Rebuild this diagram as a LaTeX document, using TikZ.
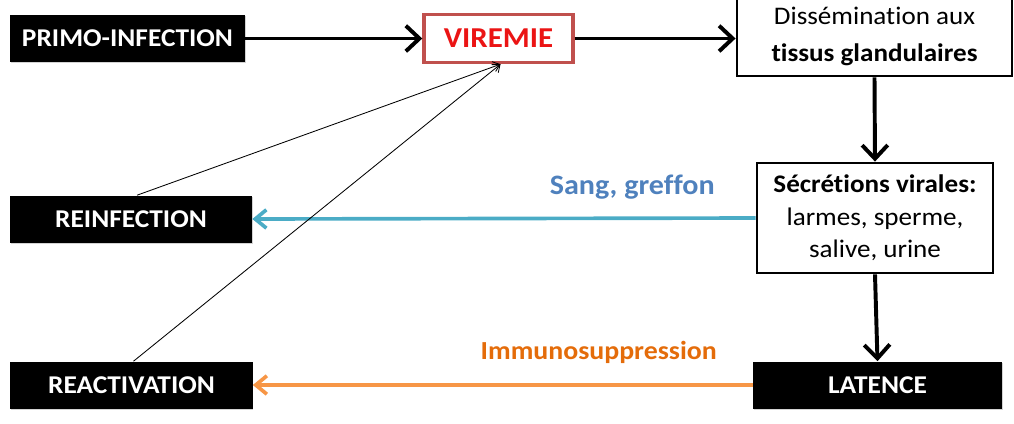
\documentclass[tikz,border=0pt]{standalone}
\usepackage{fontspec}
\setmainfont{Carlito}[FakeStretch=1.07,Ligatures=NoCommon]
\usetikzlibrary{arrows.meta,shadows}

\definecolor{viredge}{RGB}{192,80,77}
\definecolor{virtext}{RGB}{235,20,20}
\definecolor{sangline}{RGB}{75,172,198}
\definecolor{sangtext}{RGB}{79,129,189}
\definecolor{immline}{RGB}{247,150,70}
\definecolor{immtext}{RGB}{228,108,10}

\begin{document}
\begin{tikzpicture}[x=0.025cm,y=-0.025cm]
    \tikzstyle{blackbox}=[fill=black, text=white, inner sep=0pt,
        minimum width=6.05cm, minimum height=1.175cm,
        font=\fontsize{18.2}{20}\selectfont\bfseries,
        drop shadow={opacity=0.35,shadow xshift=0.6pt,shadow yshift=-0.8pt}]
    \tikzstyle{whitebox}=[draw=black, fill=white, line width=2pt, inner sep=0pt, align=center]
    \tikzstyle{thick arrow}=[line width=2.8pt, -{Straight Barb[length=3.4mm,width=6.4mm]}]
    \tikzstyle{thin arrow}=[line width=0.6pt, -{Straight Barb[length=1.6mm,width=2.6mm]}]
    \tikzstyle{back arrow}=[line width=2.6pt, -{Straight Barb[length=2.8mm,width=4.6mm]}]
    \useasboundingbox (0,0) rectangle (1014,423);

    % boxes
    \node[blackbox, minimum width=5.875cm] (primo) at (127.5,38.5) {PRIMO-INFECTION};
    \node[draw=viredge, fill=white, line width=2.4pt, minimum width=3.725cm, minimum height=1.2cm,
          text=virtext, font=\fontsize{20.5}{22}\selectfont\bfseries] (viremie) at (498.5,38.5) {VIREMIE};
    \node[whitebox, minimum width=6.875cm, minimum height=2cm,
          font=\fontsize{18}{26.3}\selectfont] (dissem) at (874.5,36)
          {Dissémination aux\\\textbf{tissus glandulaires}};
    \node[whitebox, minimum width=5.9cm, minimum height=2.75cm,
          font=\fontsize{18}{23}\selectfont] (secret) at (875,218)
          {\textbf{Sécrétions virales:}\\larmes, sperme,\\salive, urine};
    \node[blackbox] (reinf) at (131,219) {REINFECTION};
    \node[blackbox] (reactiv) at (131.5,385) {REACTIVATION};
    \node[blackbox, minimum width=6.225cm] (latence) at (877.5,385) {LATENCE};

    % main path
    \draw[thick arrow] (primo.east) -- (viremie.west);
    \draw[thick arrow] (viremie.east) -- (dissem.west |- viremie.east);
    \draw[thick arrow] (dissem.south) -- (secret.north);
    \draw[thick arrow] (secret.south) -- (latence.north);

    % return paths
    \draw[back arrow, sangline] (secret.west) -- (reinf.east)
        node[pos=0.245, above=0.3cm, text=sangtext, font=\fontsize{20}{22}\selectfont\bfseries] (sang) {Sang, greffon};
    \draw[back arrow, immline] (latence.west) -- (reactiv.east)
        node[pos=0.308, above=0.38cm, text=immtext, font=\fontsize{18.5}{20}\selectfont\bfseries] (immuno) {Immunosuppression};
    \draw[thin arrow] ([xshift=0.15cm]reinf.north) -- ([xshift=0.05cm]viremie.south);
    \draw[thin arrow] ([xshift=0.05cm]reactiv.north) -- ([xshift=0.05cm]viremie.south);
\end{tikzpicture}
\end{document}
